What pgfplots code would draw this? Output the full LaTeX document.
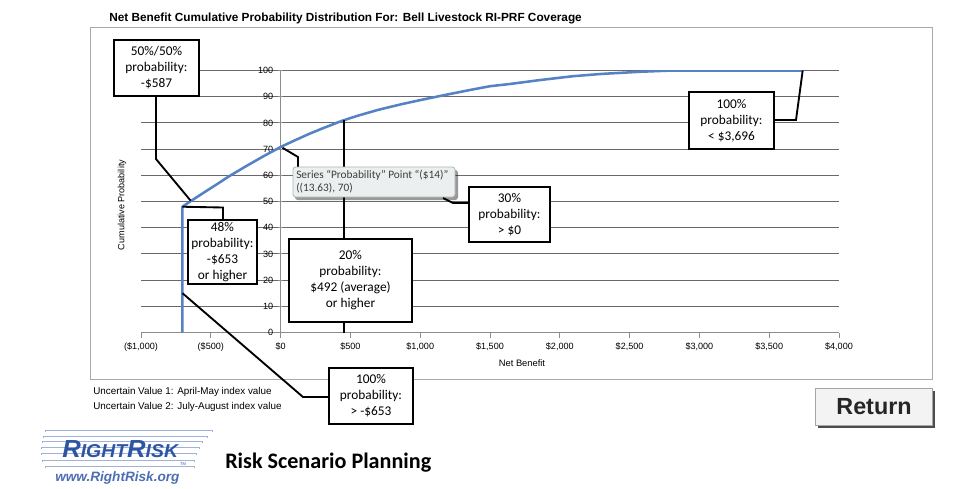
\documentclass[border=0pt]{standalone}
\usepackage{pgfplots}
\pgfplotsset{compat=1.18}
\usepackage{fontspec}
\setmainfont{Liberation Sans}
\newfontfamily\calibri{Carlito}
\definecolor{curveblue}{RGB}{84,130,196}
\definecolor{gridc}{RGB}{105,105,105}
\definecolor{axc}{RGB}{140,140,140}
\definecolor{framec}{RGB}{170,170,170}
\definecolor{logoblue}{RGB}{45,85,165}
\definecolor{logoline}{RGB}{160,178,215}
\definecolor{tipfill}{RGB}{236,239,239}
\definecolor{tipdraw}{RGB}{175,180,180}
\definecolor{tiptext}{RGB}{60,60,60}
\definecolor{btnfill}{RGB}{243,243,243}
\begin{document}
\begin{tikzpicture}
\begin{scope}[x=0.75pt,y=-0.75pt]
\fill[white] (0,0) rectangle (954,489);
\path[use as bounding box] (0,0) rectangle (954,489);
\draw[framec, line width=0.75pt] (90,27) rectangle (932,379);
\node[anchor=west, font=\bfseries\fontsize{8.85}{10}\selectfont, inner sep=0] at (109,18) {Net Benefit Cumulative Probability Distribution For: Bell Livestock RI-PRF Coverage};
\node[rotate=90, font=\fontsize{6.8}{8}\selectfont, inner sep=0] at (122,205) {Cumulative Probability};
\node[font=\fontsize{7}{8}\selectfont, inner sep=0] at (522,363) {Net Benefit};
\end{scope}
\begin{axis}[
  at={(105.75pt,-249.375pt)}, anchor=south west,
  scale only axis, width=523.5pt, height=196.5pt,
  xmin=-1000, xmax=4000, ymin=0, ymax=100,
  axis lines=middle,
  axis line style={-, draw=axc, line width=0.8pt},
  hide obscured x ticks=false, hide obscured y ticks=false,
  xtick={-1000,-500,...,4000},
  xticklabels={{(\$1,000)},{(\$500)},{\$0},{\$500},{\$1,000},{\$1,500},{\$2,000},{\$2,500},{\$3,000},{\$3,500},{\$4,000}},
  ytick={0,10,...,100},
  xtick align=outside, ytick align=center,
  major tick length=4pt,
  tick style={draw=axc, line width=0.7pt},
  /pgf/number format/assume math mode=true,
  ticklabel style={font=\fontsize{6.8}{7.5}\selectfont},
  ymajorgrids, grid style={draw=gridc, line width=0.8pt},
]
\addplot[curveblue, line width=1.9pt, line join=round] coordinates {
(-703,0) (-703,48) (-648,50) (-550,53.4) (-450,56.8) (-373,59.5) (-250,63.4)
(-125,67.2) (0,70.8) (100,73.3) (200,75.7) (300,77.9) (440,80.8) (550,82.7)
(700,85.0) (871,87.2) (1000,88.7) (1182,90.7) (1350,92.5) (1500,94.0) (1650,94.9)
(1850,96.3) (2090,97.8) (2300,98.7) (2570,99.5) (2807,100) (3740,100)};
\coordinate (c50) at (axis cs:-644,50.3);
\coordinate (c48) at (axis cs:-703,48);
\coordinate (c15) at (axis cs:-703,15);
\coordinate (c70) at (axis cs:13.63,70.5);
\coordinate (c80) at (axis cs:455,81.0);
\coordinate (c0) at (axis cs:455,0);
\coordinate (c100) at (axis cs:3740,100);
\end{axis}
\begin{scope}[x=0.75pt,y=-0.75pt,
  box/.style={draw=black, line width=1.5pt, fill=white},
  ptr/.style={draw=black, line width=1.4pt, line join=miter},
  btext/.style={font=\calibri\fontsize{10}{12}\selectfont, align=center, inner sep=0}]
% 50/50 box
\draw[ptr] (156,96) -- (156,159) -- (c50);
\draw[box] (114,40) rectangle (199,96);
\node[btext] at (156.5,68) {50\%/50\%\\probability:\\-\$587};
% 48% box
\draw[ptr] (c48) -- (223,207.5) -- (223,220);
\draw[box] (188,220) rectangle (257,284);
\node[btext] at (222.5,252) {48\%\\probability:\\-\$653\\or higher};
% 100% > -653
\draw[ptr] (c15) -- (303,397) -- (329,397);
\draw[box] (329,368) rectangle (413,424);
\node[btext] at (371,396) {100\%\\probability:\\> -\$653};
% 20% box with vertical line
\draw[ptr] (c80) -- (c0);
\draw[box] (289,239) rectangle (412,322);
\node[btext] at (350.5,280.5) {20\%\\probability:\\\$492 (average)\\or higher};
% tooltip
\draw[ptr] (c70) -- (298,157) -- (298,167);
\fill[black, opacity=0.4, rounded corners=2pt] (295,170) rectangle (458,200);
\draw[tipdraw, fill=tipfill, line width=0.6pt, rounded corners=2pt] (293,167) rectangle (455,197);
\node[anchor=west, font=\calibri\fontsize{8.5}{10}\selectfont, text=tiptext, inner sep=0] at (296,175.5) {Series “Probability” Point “(\$14)”};
\node[anchor=west, font=\calibri\fontsize{8.5}{10}\selectfont, text=tiptext, inner sep=0] at (296,188.5) {((13.63), 70)};
% 30% box
\draw[ptr] (469,203) -- (453,203) -- (443,198);
\draw[box] (469,187) rectangle (550,242);
\node[btext] at (509.5,214.5) {30\%\\probability:\\> \$0};
% 100% < 3696
\draw[ptr] (774,120) -- (796,120) -- (c100);
\draw[box] (689,92) rectangle (774,149);
\node[btext] at (731.5,120.5) {100\%\\probability:\\< \$3,696};
% bottom notes
\node[anchor=west, font=\fontsize{7.4}{8}\selectfont, inner sep=0] at (93,392) {Uncertain Value 1: April-May index value};
\node[anchor=west, font=\fontsize{7.4}{8}\selectfont, inner sep=0] at (93,407) {Uncertain Value 2: July-August index value};
% Return button
\fill[black!70] (818,391) rectangle (935,428);
\draw[black!35, fill=btnfill, line width=0.5pt] (815,388) rectangle (932,425);
\node[font=\bfseries\fontsize{17.5}{20}\selectfont, text=black!85, inner sep=0] at (874,406.5) {Return};
% logo
\foreach \yy/\xa/\xb in {431/45/213, 437/43/208, 442/42/203, 448/41/200, 454/41/197, 461/42/195, 467/45/195}{
  \draw[logoline, line width=1.9pt] (\xa,\yy) -- (\xb,\yy);
  \draw[white, line width=0.6pt] (\xa+1,\yy) -- (\xb-1,\yy);
}
\node[anchor=west, font=\bfseries\itshape\fontsize{18.5}{19}\selectfont, text=logoblue, inner sep=0, xscale=1.04, transform shape] at (62,449) {R\fontsize{14}{14}\selectfont IGHT\fontsize{18.5}{19}\selectfont R\fontsize{14}{14}\selectfont ISK};
\node[font=\fontsize{3}{3}\selectfont, text=logoblue, inner sep=0] at (183,464) {TM};
\node[anchor=west, font=\bfseries\itshape\fontsize{10.2}{11}\selectfont, text=logoblue!85, inner sep=0] at (55,478) {www.RightRisk.org};
\node[anchor=west, font=\calibri\bfseries\fontsize{16.6}{19}\selectfont, inner sep=0] at (225,463) {Risk Scenario Planning};
\end{scope}
\end{tikzpicture}
\end{document}
